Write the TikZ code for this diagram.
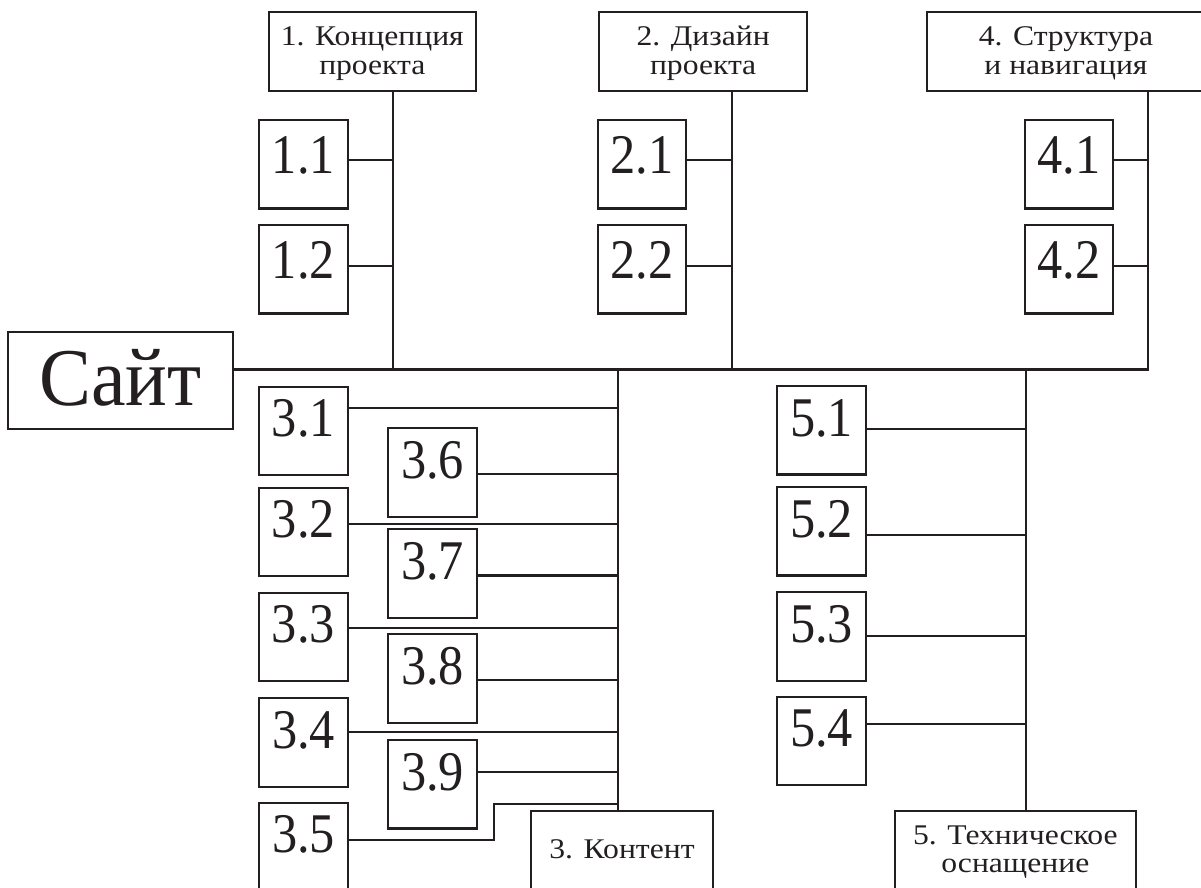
\documentclass[tikz,border=0pt]{standalone}
\usepackage{fontspec}
\setmainfont{Liberation Serif}
\newfontfamily\numfont[FakeStretch=0.9]{Liberation Serif}
\newfontfamily\headfont[FakeStretch=1.11]{Liberation Serif}
\newfontfamily\rootfont[FakeStretch=0.95]{Liberation Serif}
\definecolor{ink}{RGB}{35,31,32}
\begin{document}
\begin{tikzpicture}[x=1pt,y=-1pt,
  box/.style={draw=ink,line width=2.2pt,rectangle,inner sep=0pt,outer sep=0pt,
    text=ink,anchor=north west},
  numbox/.style={box,minimum width=88.6pt,minimum height=88.5pt,
    font=\numfont\fontsize{56}{56}\selectfont,text height=26pt,text depth=14pt},
  numboxup/.style={numbox,text height=29.5pt,text depth=10.5pt},
  titlebox/.style={box,minimum height=79pt,font=\headfont\fontsize{28.5}{28.7}\selectfont,
    text height=10pt,text depth=21pt},
  wire/.style={draw=ink,line width=2.2pt}]
\useasboundingbox (0,0) rectangle (1201,888);
\fill[white] (0,0) rectangle (1201,888);

% root
\node[box,minimum width=224.4pt,minimum height=97pt,
  font=\rootfont\fontsize{82}{82}\selectfont,text height=60pt,text depth=10.4pt]
  (site) at (8.3,331.7) {Сайт};

% section headings
\node[titlebox,minimum width=207.3pt] (t1) at (268.7,11.7)
  {\begin{tabular}[t]{@{}c@{}}1. Концепция\\проекта\end{tabular}};
\node[titlebox,minimum width=207.7pt] (t2) at (599.3,11.7)
  {\begin{tabular}[t]{@{}c@{}}2. Дизайн\\проекта\end{tabular}};
\node[titlebox,minimum width=278.6pt] (t4) at (926.7,11.7)
  {\begin{tabular}[t]{@{}c@{}}4. Структура\\и навигация\end{tabular}};
\node[titlebox,minimum width=182.6pt,minimum height=90pt,
  text height=15pt,text depth=11pt] (t3) at (530.7,811) {3. Контент};
\node[titlebox,minimum width=240.7pt,minimum height=90pt,
  text height=5pt,text depth=29pt] (t5) at (895,811)
  {\begin{tabular}[t]{@{}c@{}}5. Техническое\\оснащение\end{tabular}};

% items
\node[numboxup] (b11) at (259,120) {1.1};
\node[numboxup] (b12) at (259,225) {1.2};
\node[numboxup] (b21) at (597.7,120) {2.1};
\node[numboxup] (b22) at (597.7,225) {2.2};
\node[numboxup] (b41) at (1024.7,120) {4.1};
\node[numboxup] (b42) at (1024.7,225) {4.2};

\node[numbox] (b31) at (259,386.7) {3.1};
\node[numbox] (b32) at (259,487.7) {3.2};
\node[numbox] (b33) at (259,592.7) {3.3};
\node[numbox] (b34) at (259.2,698.3) {3.4};
\node[numbox] (b35) at (259.2,802.7) {3.5};
\node[numbox] (b36) at (388.3,428.3) {3.6};
\node[numbox] (b37) at (388.3,529.3) {3.7};
\node[numbox] (b38) at (388.3,634.3) {3.8};
\node[numbox] (b39) at (388.3,740) {3.9};

\node[numbox] (b51) at (777.3,386) {5.1};
\node[numbox] (b52) at (777.3,487) {5.2};
\node[numbox] (b53) at (777.3,592.3) {5.3};
\node[numbox] (b54) at (777.3,696.7) {5.4};

% junctions on the trunk
\coordinate (j1) at (393,369.5);
\coordinate (j2) at (732.3,369.5);
\coordinate (j3) at (618.3,369.5);
\coordinate (j4) at (1148.3,369.5);
\coordinate (j5) at (1025.7,369.5);

% branch points
\coordinate (k11) at (393,160.3);
\coordinate (k12) at (393,266);
\coordinate (k21) at (732.3,160.3);
\coordinate (k22) at (732.3,266);
\coordinate (k41) at (1148.3,160.3);
\coordinate (k42) at (1148.3,266);
\coordinate (k31) at (618.3,407.7);
\coordinate (k36) at (618.3,473.7);
\coordinate (k32) at (618.3,524.2);
\coordinate (k37) at (618.3,575.5);
\coordinate (k33) at (618.3,628);
\coordinate (k38) at (618.3,680);
\coordinate (k34) at (618.3,732.3);
\coordinate (k39) at (618.3,772);
\coordinate (k35) at (618.3,804);
\coordinate (k35c) at (494.3,840.3);
\coordinate (k51) at (1025.7,429.3);
\coordinate (k52) at (1025.7,534.7);
\coordinate (k53) at (1025.7,636);
\coordinate (k54) at (1025.7,723.7);

% trunk and buses
\draw[wire] (site.east |- j1) -- (j4) -- (t4.south -| j4);
\draw[wire] (t1.south -| j1) -- (j1);
\draw[wire] (t2.south -| j2) -- (j2);
\draw[wire] (j3) -- (j3 |- t3.north);
\draw[wire] (j5) -- (j5 |- t5.north);

% branches
\foreach \b in {11,12,21,22,41,42,31,32,33,34,36,37,38,39,51,52,53,54}
  \draw[wire] (b\b.east |- k\b) -- (k\b);
\draw[wire] (b35.east |- k35c) -- (k35c) |- (k35);
\end{tikzpicture}
\end{document}
